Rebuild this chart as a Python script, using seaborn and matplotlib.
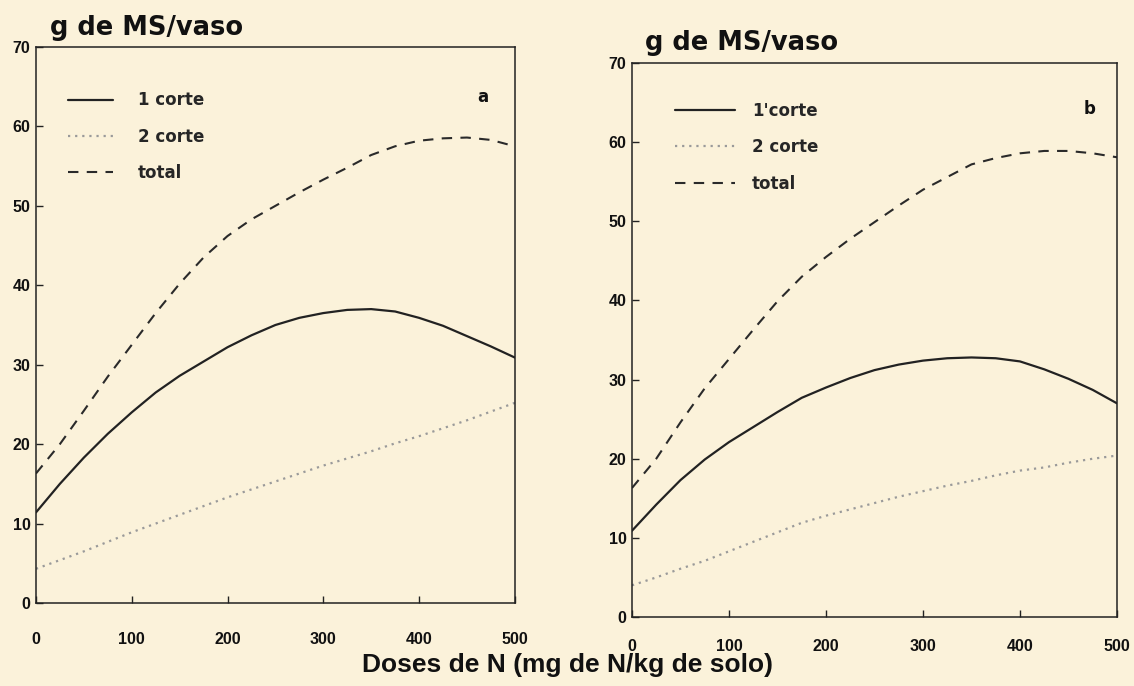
import numpy as np
import pandas as pd
import matplotlib
matplotlib.use("Agg")
import matplotlib.pyplot as plt
import seaborn as sns

# ---------------- data ----------------
doses = [0, 25, 50, 75, 100, 125, 150, 175, 200, 225, 250, 275, 300,
         325, 350, 375, 400, 425, 450, 475, 500]

# panel a
a_corte1 = [11.4, 15.0, 18.3, 21.3, 24.0, 26.5, 28.6, 30.4, 32.2, 33.7, 35.0,
            35.9, 36.5, 36.9, 37.0, 36.7, 35.9, 34.9, 33.6, 32.3, 30.9]
a_corte2 = [4.3, 5.4, 6.5, 7.7, 8.9, 10.0, 11.1, 12.2, 13.3, 14.3, 15.3,
            16.3, 17.3, 18.2, 19.1, 20.1, 21.0, 22.0, 23.0, 24.1, 25.2]
a_total = [16.3, 20.0, 24.2, 28.5, 32.5, 36.5, 40.2, 43.5, 46.2, 48.3, 50.0,
           51.7, 53.3, 54.8, 56.4, 57.5, 58.2, 58.5, 58.6, 58.3, 57.5]

# panel b
b_corte1 = [10.9, 14.2, 17.3, 19.9, 22.1, 24.0, 25.9, 27.7, 29.0, 30.2, 31.2,
            31.9, 32.4, 32.7, 32.8, 32.7, 32.3, 31.3, 30.1, 28.7, 27.0]
b_corte2 = [4.0, 5.0, 6.1, 7.1, 8.3, 9.5, 10.7, 11.9, 12.8, 13.6, 14.4,
            15.2, 15.9, 16.6, 17.2, 17.9, 18.5, 18.9, 19.5, 20.0, 20.4]
b_total = [16.3, 20.0, 24.6, 28.9, 32.6, 36.3, 39.9, 43.0, 45.5, 47.8, 49.9,
           52.0, 54.0, 55.6, 57.2, 58.0, 58.6, 58.9, 58.9, 58.6, 58.1]

series_labels_a = ["1 corte", "2 corte", "total"]
series_labels_b = ["1'corte", "2 corte", "total"]
panel_tags = ["a", "b"]
y_ticks = [0, 10, 20, 30, 40, 50, 60, 70]
x_ticks = [0, 100, 200, 300, 400, 500]
y_title = "g de MS/vaso"
x_title = "Doses de N (mg de N/kg de solo)"

# ---------------- style ----------------
bg = "#fbf2da"
sns.set_theme(style="ticks")
plt.rcParams["font.family"] = ["Liberation Sans", "DejaVu Sans"]
plt.rcParams["font.weight"] = "bold"

fig = plt.figure(figsize=(11.34, 6.86), dpi=100, facecolor=bg)
ax_a = fig.add_axes([0.0317, 0.121, 0.4223, 0.8105])
ax_b = fig.add_axes([0.5573, 0.1006, 0.4277, 0.8074])

styles = [
    dict(color="#222222", linestyle="-", linewidth=1.6),
    dict(color="#9a9a9a", linestyle=(0, (1, 2.2)), linewidth=1.6),
    dict(color="#2a2a2a", linestyle=(0, (5, 4)), linewidth=1.5),
]

panels = [
    (ax_a, [a_corte1, a_corte2, a_total], series_labels_a, panel_tags[0],
     dict(anchor=(0.035, 0.947), hl=2.7, tp=1.5), 21, (0.933, 0.91)),
    (ax_b, [b_corte1, b_corte2, b_total], series_labels_b, panel_tags[1],
     dict(anchor=(0.058, 0.957), hl=3.6, tp=1.0), 16, (0.944, 0.918)),
]

for ax, ys, labels, tag, lg, xpad, tagpos in panels:
    ax.set_facecolor(bg)
    for yv, lab, st in zip(ys, labels, styles):
        df = pd.DataFrame({"x": doses, "y": yv})
        sns.lineplot(data=df, x="x", y="y", ax=ax, label=lab, **st)
    ax.set_xlim(0, 500)
    ax.set_ylim(0, 70)
    ax.set_xticks(x_ticks)
    ax.set_yticks(y_ticks)
    ax.set_xlabel("")
    ax.set_ylabel("")
    for s in ax.spines.values():
        s.set_visible(True)
        s.set_color("#222222")
        s.set_linewidth(1.1)
    ax.tick_params(axis="both", direction="in", length=5, width=1,
                   color="#222222", labelsize=11.5, labelcolor="#111111")
    ax.tick_params(axis="x", pad=xpad)
    ax.tick_params(axis="y", pad=4)
    for lbl in ax.get_xticklabels() + ax.get_yticklabels():
        lbl.set_fontweight("bold")
    ax.legend(loc="upper left", bbox_to_anchor=lg["anchor"], frameon=False,
              handlelength=lg["hl"], handletextpad=lg["tp"], labelspacing=1.1,
              prop={"weight": "bold", "size": 12, "family": "DejaVu Sans"})
    ax.text(tagpos[0], tagpos[1], tag, transform=ax.transAxes, ha="center",
            va="center", fontsize=12, fontweight="bold", color="#111111",
            family="DejaVu Sans")

fig.text(0.044, 0.940, y_title, fontsize=18.5, fontweight="bold", color="#111111",
         ha="left", va="bottom", family="DejaVu Sans")
fig.text(0.569, 0.918, y_title, fontsize=18.5, fontweight="bold", color="#111111",
         ha="left", va="bottom", family="DejaVu Sans")
fig.text(0.50, 0.03, x_title, fontsize=19, fontweight="bold", color="#111111",
         ha="center", va="center")

fig.savefig("out.png", dpi=100, facecolor=bg)
